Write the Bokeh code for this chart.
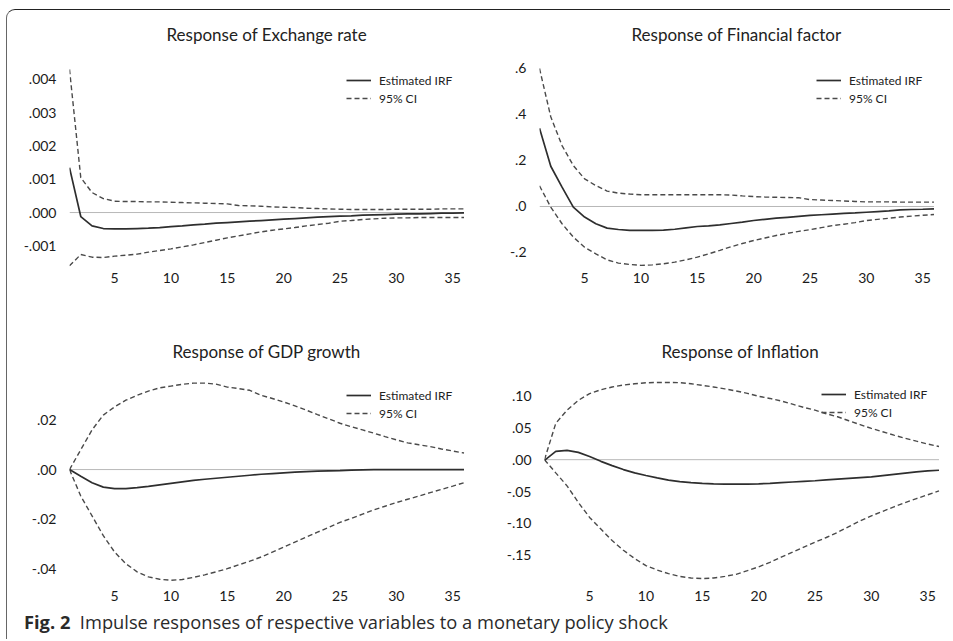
from bokeh.plotting import figure
from bokeh.models import FixedTicker, Range1d, Legend, LegendItem, Div
from bokeh.layouts import column, row
from bokeh.embed import file_html
from bokeh.resources import INLINE

# ---------------- data ----------------
periods = list(range(1, 37))
x_ticks = [5, 10, 15, 20, 25, 30, 35]

titles = ["Response of Exchange rate", "Response of Financial factor",
          "Response of GDP growth", "Response of Inflation"]
legend_labels = ["Estimated IRF", "95% CI"]

irf_ex = [0.00135, -0.00012, -0.00040, -0.00048, -0.00049, -0.00049, -0.00048, -0.00047, -0.00045,
          -0.00042, -0.00040, -0.00037, -0.00035, -0.00032, -0.00030, -0.00028, -0.00026, -0.00024,
          -0.00022, -0.00020, -0.00018, -0.00016, -0.00014, -0.00012, -0.00011, -0.00010, -0.00008,
          -0.00007, -0.00006, -0.00005, -0.00004, -0.00004, -0.00003, -0.00002, -0.00002, -0.00001]
up_ex = [0.0043, 0.00105, 0.00060, 0.00042, 0.00034, 0.00033, 0.00033, 0.00032, 0.00032, 0.00031,
         0.00030, 0.00029, 0.00028, 0.00027, 0.00026, 0.00021, 0.00020, 0.00019, 0.00017, 0.00016,
         0.00015, 0.00013, 0.00012, 0.00011, 0.00010, 0.00009, 0.00009, 0.00009, 0.00009, 0.00010,
         0.00010, 0.00010, 0.00010, 0.00011, 0.00011, 0.00011]
lo_ex = [-0.0016, -0.00126, -0.00134, -0.00135, -0.00131, -0.00128, -0.00125, -0.00119, -0.00114,
         -0.00109, -0.00103, -0.00097, -0.00090, -0.00083, -0.00076, -0.00070, -0.00064, -0.00058,
         -0.00053, -0.00049, -0.00045, -0.00040, -0.00036, -0.00032, -0.00026, -0.00024, -0.00021,
         -0.00019, -0.00017, -0.00016, -0.00016, -0.00015, -0.00015, -0.00015, -0.00015, -0.00015]

irf_fin = [0.34, 0.175, 0.084, -0.003, -0.046, -0.075, -0.094, -0.100, -0.104, -0.104, -0.104, -0.103,
           -0.099, -0.093, -0.087, -0.084, -0.080, -0.074, -0.068, -0.061, -0.056, -0.051, -0.047,
           -0.043, -0.039, -0.036, -0.033, -0.030, -0.028, -0.025, -0.022, -0.019, -0.015, -0.013,
           -0.012, -0.010]
up_fin = [0.60, 0.39, 0.265, 0.178, 0.12, 0.091, 0.067, 0.058, 0.054, 0.051, 0.051, 0.051, 0.051,
          0.051, 0.051, 0.051, 0.051, 0.050, 0.046, 0.043, 0.041, 0.040, 0.039, 0.038, 0.030, 0.028,
          0.026, 0.024, 0.022, 0.020, 0.020, 0.020, 0.019, 0.019, 0.019, 0.019]
lo_fin = [0.09, -0.003, -0.075, -0.133, -0.177, -0.206, -0.232, -0.246, -0.252, -0.256, -0.254,
          -0.249, -0.242, -0.232, -0.220, -0.206, -0.191, -0.175, -0.161, -0.148, -0.137, -0.126,
          -0.117, -0.108, -0.101, -0.092, -0.083, -0.077, -0.070, -0.061, -0.056, -0.051, -0.046,
          -0.042, -0.038, -0.035]

irf_gdp = [0.0, -0.0027, -0.0053, -0.0071, -0.0077, -0.0077, -0.0073, -0.0068, -0.0062, -0.0056,
           -0.0050, -0.0044, -0.0039, -0.0035, -0.0031, -0.0027, -0.0023, -0.0019, -0.0016, -0.0013,
           -0.0010, -0.0008, -0.0006, -0.0005, -0.0004, -0.0002, -0.0001, 0.0, 0.0, 0.0, 0.0, 0.0,
           0.0, 0.0, 0.0, 0.0]
up_gdp = [0.0, 0.008, 0.016, 0.022, 0.0253, 0.028, 0.030, 0.0317, 0.033, 0.0337, 0.0344, 0.0349,
          0.0349, 0.0345, 0.0333, 0.0327, 0.032, 0.030, 0.0287, 0.0273, 0.0257, 0.024, 0.0222,
          0.0205, 0.0187, 0.0173, 0.016, 0.0147, 0.0133, 0.012, 0.0108, 0.0100, 0.0093, 0.0083,
          0.0075, 0.0067]
lo_gdp = [0.0, -0.0107, -0.0187, -0.0267, -0.0333, -0.038, -0.0413, -0.0433, -0.0443, -0.0447,
          -0.0444, -0.0435, -0.0425, -0.0413, -0.040, -0.0385, -0.037, -0.0353, -0.0333, -0.0313,
          -0.0293, -0.0273, -0.0253, -0.0233, -0.0213, -0.0197, -0.018, -0.0163, -0.0148, -0.0133,
          -0.0120, -0.0107, -0.0093, -0.0080, -0.0067, -0.0053]

irf_inf = [-0.001, 0.013, 0.0145, 0.0114, 0.005, -0.0026, -0.0093, -0.0155, -0.0207, -0.0248,
           -0.0285, -0.032, -0.0345, -0.036, -0.0372, -0.0378, -0.0382, -0.0383, -0.0382, -0.0378,
           -0.0370, -0.0360, -0.0350, -0.0340, -0.0330, -0.0318, -0.0306, -0.0294, -0.0282,
           -0.0270, -0.0250, -0.0230, -0.0210, -0.0190, -0.0175, -0.0166]
up_inf = [0.0, 0.057, 0.0776, 0.093, 0.1035, 0.1097, 0.1139, 0.117, 0.119, 0.1206, 0.121, 0.121,
          0.1207, 0.119, 0.1165, 0.114, 0.111, 0.1077, 0.104, 0.0994, 0.096, 0.092, 0.087, 0.082,
          0.0776, 0.072, 0.0673, 0.061, 0.055, 0.049, 0.0438, 0.0385, 0.0336, 0.029, 0.0245, 0.0207]
lo_inf = [0.0, -0.0207, -0.041, -0.067, -0.0905, -0.1087, -0.1268, -0.142, -0.155, -0.166, -0.173,
          -0.1786, -0.183, -0.1855, -0.1863, -0.1855, -0.183, -0.1797, -0.174, -0.168, -0.161,
          -0.1527, -0.145, -0.137, -0.1294, -0.122, -0.114, -0.105, -0.096, -0.088, -0.081, -0.074,
          -0.0673, -0.061, -0.055, -0.049]

yticks_ex = [0.004, 0.003, 0.002, 0.001, 0.0, -0.001]
ylabels_ex = [".004", ".003", ".002", ".001", ".000", "-.001"]
yticks_fin = [0.6, 0.4, 0.2, 0.0, -0.2]
ylabels_fin = [".6", ".4", ".2", ".0", "-.2"]
yticks_gdp = [0.02, 0.0, -0.02, -0.04]
ylabels_gdp = [".02", ".00", "-.02", "-.04"]
yticks_inf = [0.10, 0.05, 0.0, -0.05, -0.10, -0.15]
ylabels_inf = [".10", ".05", ".00", "-.05", "-.10", "-.15"]

caption_bold = "Fig. 2"
caption_text = "Impulse responses of respective variables to a monetary policy shock"

FONT = "Lato"


def title_div(text, w, shift_x, pad_top):
    html = (f'<div style="padding-top:{pad_top}px;line-height:20px;'
            f'font-family:Lato,sans-serif;font-size:17px;color:#222;white-space:nowrap">'
            f'<span style="position:relative;left:{shift_x}px">{text}</span></div>')
    return Div(text=html, width=w, height=50, margin=0)


def panel(irf, up, lo, yticks, ylabels, yr, w, h, mbl, mbr, mbb, xstand, loc):
    p = figure(width=w, height=h, output_backend="svg", toolbar_location=None,
               x_range=Range1d(1, 36.4), y_range=Range1d(*yr),
               min_border_left=mbl, min_border_right=mbr, min_border_top=2,
               min_border_bottom=mbb, background_fill_color="white",
               border_fill_color="white", outline_line_color=None)
    p.grid.visible = False
    for ax in (p.xaxis[0], p.yaxis[0]):
        ax.axis_line_color = None
        ax.major_tick_line_color = None
        ax.minor_tick_line_color = None
        ax.major_label_text_font = FONT
        ax.major_label_text_font_size = "14px"
        ax.major_label_text_color = "#1a1a1a"
    p.xaxis[0].ticker = FixedTicker(ticks=x_ticks)
    p.xaxis[0].major_label_standoff = xstand
    p.yaxis[0].ticker = FixedTicker(ticks=yticks)
    p.yaxis[0].major_label_overrides = {t: l for t, l in zip(yticks, ylabels)}
    p.yaxis[0].major_label_standoff = 7

    p.line([periods[0], periods[-1]], [0, 0], line_color="#b8b8b8", line_width=1)
    r_up = p.line(periods, up, line_color="#4a4a4a", line_width=1.4, line_dash="5 3")
    p.line(periods, lo, line_color="#4a4a4a", line_width=1.4, line_dash="5 3")
    r_irf = p.line(periods, irf, line_color="#2e2e2e", line_width=1.7)

    leg = Legend(items=[LegendItem(label=legend_labels[0], renderers=[r_irf]),
                        LegendItem(label=legend_labels[1], renderers=[r_up])],
                 location=loc, padding=0, margin=0, spacing=0,
                 border_line_color=None, background_fill_alpha=0,
                 glyph_width=25, glyph_height=18, label_height=18, label_standoff=8,
                 label_text_font=FONT, label_text_font_size="12px",
                 label_text_color="#222222")
    p.add_layout(leg, "center")
    return p


p1 = panel(irf_ex, up_ex, lo_ex, yticks_ex, ylabels_ex, (-0.00168, 0.004505),
           470, 258, 62, 9, 50, -2, (277, 161))
p2 = panel(irf_fin, up_fin, lo_fin, yticks_fin, ylabels_fin, (-0.2696, 0.626),
           474, 258, 62, 13, 50, -2, (277, 161))
p3 = panel(irf_gdp, up_gdp, lo_gdp, yticks_gdp, ylabels_gdp, (-0.046, 0.04),
           470, 235, 62, 9, 19, 1, (277, 161))
p4 = panel(irf_inf, up_inf, lo_inf, yticks_inf, ylabels_inf, (-0.1941, 0.1398),
           474, 235, 67, 8, 19, 1, (277, 162))

t1 = title_div(titles[0], 470, 159.5, 14.5)
t2 = title_div(titles[1], 474, 154.5, 14.5)
t3 = title_div(titles[2], 470, 165.5, 23.5)
t4 = title_div(titles[3], 474, 184.5, 23.5)

cap = Div(text=f"<b>{caption_bold}</b>&nbsp; {caption_text}", width=944, height=37,
          styles={"font-family": "'Open Sans', sans-serif", "font-size": "18.3px",
                  "color": "#2a2a2a", "padding-left": "12px", "line-height": "22px",
                  "padding-top": "2.5px"})

layout = column(row(column(t1, p1), column(t2, p2)), row(column(t3, p3), column(t4, p4)), cap,
                width=944, height=630, margin=(9, 0, 0, 6),
                styles={"border-left": "1.6px solid #666", "border-top": "1.6px solid #222",
                        "border-top-left-radius": "9px"})

open("out.html", "w").write(file_html(layout, INLINE))
